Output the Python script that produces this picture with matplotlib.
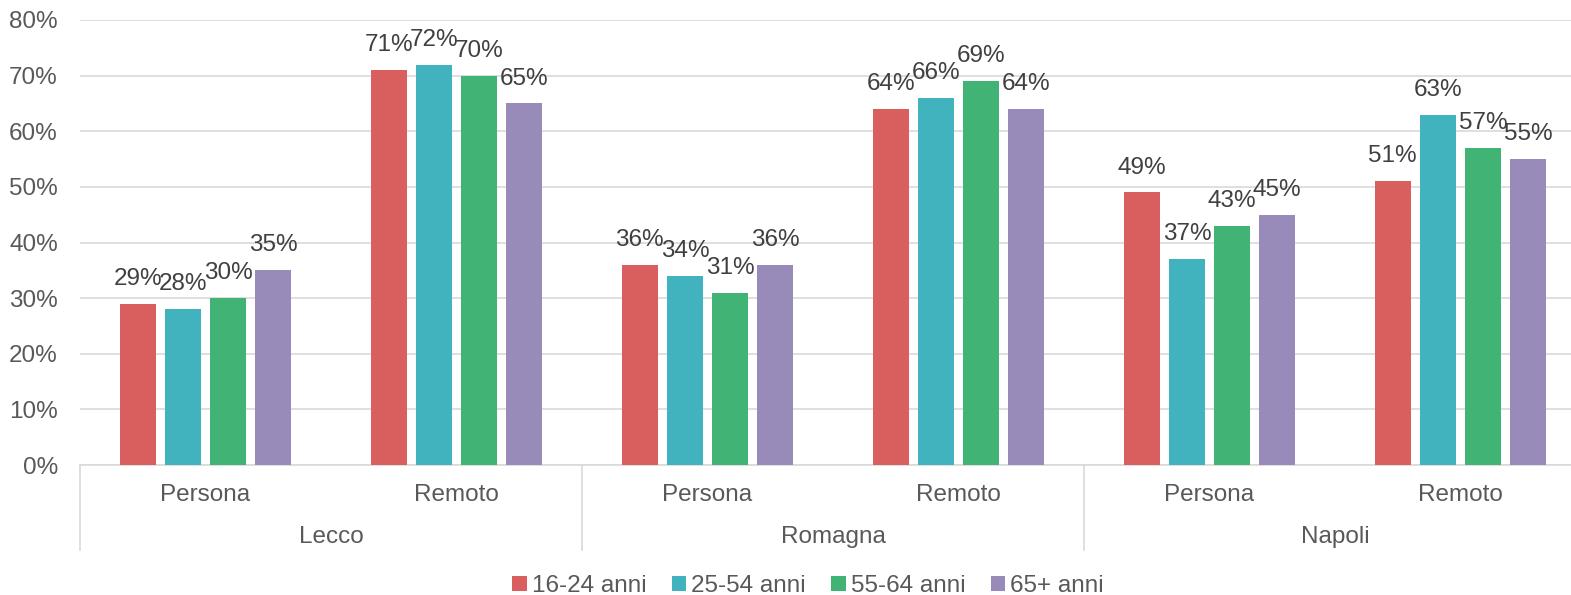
import matplotlib
matplotlib.use("Agg")
import matplotlib.pyplot as plt
from matplotlib.patches import Patch
import numpy as np

plt.rcParams['font.family'] = ['Liberation Sans', 'DejaVu Sans']

cities = ["Lecco", "Romagna", "Napoli"]
modes = ["Persona", "Remoto"]
series = ["16-24 anni", "25-54 anni", "55-64 anni", "65+ anni"]
colors = ["#D95F5F", "#41B3BE", "#41B375", "#998BB9"]

# values per category: Lecco-Persona, Lecco-Remoto, Romagna-Persona, Romagna-Remoto, Napoli-Persona, Napoli-Remoto
v_16_24 = [29, 71, 36, 64, 49, 51]
v_25_54 = [28, 72, 34, 66, 37, 63]
v_55_64 = [30, 70, 31, 69, 43, 57]
v_65 = [35, 65, 36, 64, 45, 55]
values = [v_16_24, v_25_54, v_55_64, v_65]

text_color = "#595959"
grid_color = "#D9D9D9"
fs = 17.5

fig = plt.figure(figsize=(15.71, 5.95), dpi=100)
ax = fig.add_axes([80/1571, 130/595, 1506/1571, 445/595])

n = len(v_16_24)
x = np.arange(n)
step = 0.18
width = 0.143
for i, (vals, c) in enumerate(zip(values, colors)):
    pos = x + (i - 1.5) * step
    bars = ax.bar(pos, vals, width=width, color=c, zorder=3)
    for b, v in zip(bars, vals):
        ax.annotate(f"{v}%", (b.get_x() + b.get_width()/2, v), xytext=(0, 10),
                    textcoords="offset points", ha="center", va="bottom",
                    fontsize=fs, color="#404040")

ax.set_xlim(-0.5, n - 0.5)
ax.set_ylim(0, 80)
ax.set_yticks(np.arange(0, 81, 10))
ax.set_yticklabels([f"{t}%" for t in range(0, 81, 10)], fontsize=fs, color=text_color)
ax.tick_params(axis='y', length=0, pad=16)
ax.tick_params(axis='x', length=0)
ax.set_xticks([])
ax.grid(axis='y', color=grid_color, linewidth=1.2, zorder=0)
for s in ["top", "right", "left"]:
    ax.spines[s].set_visible(False)
ax.spines["bottom"].set_color(grid_color)
ax.spines["bottom"].set_linewidth(1.2)

trans = ax.get_xaxis_transform()
for k in range(n):
    ax.text(k, -30/445, modes[k % 2], transform=trans, ha="center", va="center",
            fontsize=fs, color=text_color)
for j, city in enumerate(cities):
    ax.text(2*j + 0.5, -72/445, city, transform=trans, ha="center", va="center",
            fontsize=fs, color=text_color)
for xb in [-0.5, 1.5, 3.5, 5.5]:
    ax.plot([xb, xb], [0, -85/445], transform=trans, color=grid_color,
            linewidth=1.2, clip_on=False)

handles = [Patch(facecolor=c, edgecolor='none') for c in colors]
leg = fig.legend(handles, series, loc="center", bbox_to_anchor=(808/1571, 9/595),
                 ncol=4, frameon=False, fontsize=fs, handlelength=0.6,
                 handleheight=0.6, handletextpad=0.2, columnspacing=1.05)
for t in leg.get_texts():
    t.set_color(text_color)

fig.savefig("out.png", dpi=100)
